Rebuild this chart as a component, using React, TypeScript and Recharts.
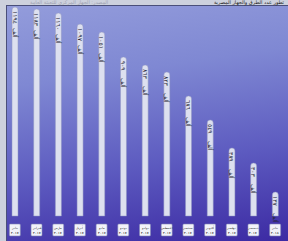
import { BarChart, Bar, XAxis, YAxis, LabelList } from "recharts";

/* ── data ── */
const MONTHS = ["يناير", "فبراير", "مارس", "أبريل", "مايو", "يونيو", "يوليو", "أغسطس", "سبتمبر", "أكتوبر", "نوفمبر", "ديسمبر", "يناير"];
const YEARS = ["٢٠١٧", "٢٠١٧", "٢٠١٧", "٢٠١٧", "٢٠١٧", "٢٠١٧", "٢٠١٧", "٢٠١٧", "٢٠١٧", "٢٠١٧", "٢٠١٧", "٢٠١٧", "٢٠١٨"];
const VALUES = [1194, 1183, 1160, 1097, 1051, 909, 863, 823, 686, 549, 389, 303, 137];
const UNIT = "ألف";
const Y_DOMAIN = [0, 1200];

const W = 288;
const H = 241;

const toArabicDigits = (n: number) => String(n).replace(/\d/g, (d) => "٠١٢٣٤٥٦٧٨٩"[Number(d)]);

const data = MONTHS.map((m, i) => ({ name: m, year: YEARS[i], value: VALUES[i] }));

/* ── 막대 안 세로 숫자 ── */
function BarValue(props: any) {
  const { x, y, width, value } = props;
  const cx = x + width / 2;
  const ty = y + 4;
  const uy = y + 21;
  return (
    <g fill="#262636" fontSize={6} fontFamily="DejaVu Sans">
      <text x={cx} y={ty} transform={`rotate(90 ${cx} ${ty})`} dominantBaseline="central">
        {toArabicDigits(value)}
      </text>
      <text x={cx} y={uy} transform={`rotate(90 ${cx} ${uy})`} dominantBaseline="central">
        {UNIT}
      </text>
    </g>
  );
}

/* ── 아래쪽 작은 흰 상자 ── */
function MonthTick(props: any) {
  const { x, y, payload, index } = props;
  return (
    <g>
      <rect x={x - 5.5} y={y + 2} width={11} height={12} rx={1} fill="#f2f3f9" stroke="#7f85b6" strokeWidth={0.6} />
      <text x={x} y={y + 7} fontSize={3} textAnchor="middle" fill="#222" fontFamily="Noto Sans">
        {payload.value}
      </text>
      <text x={x} y={y + 11.5} fontSize={3} fontWeight="bold" textAnchor="middle" fill="#222" fontFamily="Noto Sans">
        {YEARS[index]}
      </text>
    </g>
  );
}

export default function App() {
  return (
    <div style={{ position: "fixed", left: 0, top: 0, width: W, height: H, background: "#cdd1dd", overflow: "hidden" }}>
      {/* frame with the blue gradient */}
      <div
        style={{
          position: "absolute",
          left: 6,
          top: 5,
          width: W - 6,
          height: H - 5,
          background: "linear-gradient(172deg, #939cdb 0%, #7f88d3 30%, #5d5bc0 65%, #3c2aa3 100%)",
          boxShadow: "inset 1px 1px 0 #4a4f7a",
        }}
      />
      {/* title strip */}
      <div
        style={{
          position: "absolute",
          right: 4,
          top: -1,
          fontSize: 5,
          lineHeight: "6px",
          color: "#1e1e1e",
          fontFamily: "DejaVu Sans",
          direction: "rtl",
          whiteSpace: "nowrap",
        }}
      >
        تطور عدد الطرق والجهاز المصرية
      </div>
      <div
        style={{
          position: "absolute",
          left: 30,
          top: -1,
          fontSize: 5,
          lineHeight: "6px",
          color: "#9ea2b2",
          fontFamily: "DejaVu Sans",
          direction: "rtl",
          whiteSpace: "nowrap",
        }}
      >
        المصدر: الجهاز المركزي للتعبئة العامة
      </div>
      <div style={{ position: "absolute", left: 0, top: 0 }}>
        <BarChart width={W} height={H} data={data} margin={{ top: 6, right: 2, bottom: 0, left: 4 }}>
          <YAxis hide domain={Y_DOMAIN} />
          <XAxis
            dataKey="name"
            axisLine={false}
            tickLine={false}
            height={25}
            interval={0}
            tick={<MonthTick />}
            tickMargin={0}
          />
          <Bar
            dataKey="value"
            barSize={6}
            radius={[3, 3, 0, 0]}
            fill="#dde0ef"
            stroke="#8e94c0"
            strokeWidth={0.5}
            isAnimationActive={false}
          >
            <LabelList dataKey="value" content={<BarValue />} />
          </Bar>
        </BarChart>
      </div>
    </div>
  );
}
